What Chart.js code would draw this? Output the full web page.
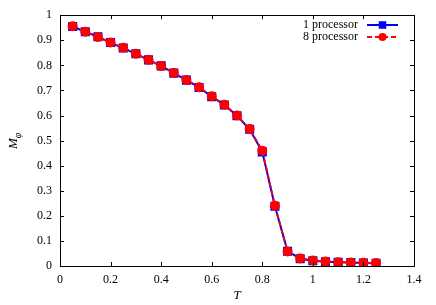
<!DOCTYPE html>
<html>
<head>
<meta charset="utf-8">
<script src="https://cdn.jsdelivr.net/npm/chart.js@4/dist/chart.umd.min.js"></script>
<style>
  body { margin: 0; background: #fff; }
  #warm { position: absolute; left: -999px; top: 0; font-family: "Liberation Serif", serif; }
</style>
</head>
<body>
<div id="warm">0.123 processor <i>M T</i> φ</div>
<canvas id="myChart" width="436" height="305"></canvas>
<script>
const temps = [0.05, 0.1, 0.15, 0.2, 0.25, 0.3, 0.35, 0.4, 0.45, 0.5, 0.55, 0.6, 0.65,
  0.7, 0.75, 0.8, 0.85, 0.9, 0.95, 1.0, 1.05, 1.1, 1.15, 1.2, 1.25];
const oneProc = [0.955, 0.934, 0.914, 0.891, 0.869, 0.846, 0.822, 0.798, 0.769, 0.741, 0.712, 0.675, 0.642,
  0.599, 0.545, 0.455, 0.238, 0.059, 0.029, 0.021, 0.017, 0.015, 0.014, 0.012, 0.011];
const eightProc = [0.956, 0.934, 0.913, 0.891, 0.870, 0.846, 0.822, 0.797, 0.770, 0.742, 0.713, 0.677, 0.643,
  0.600, 0.546, 0.460, 0.240, 0.058, 0.030, 0.022, 0.018, 0.015, 0.014, 0.013, 0.012];
const seriesLabels = ["1 processor", "8 processor"];
const xTicks = [0, 0.2, 0.4, 0.6, 0.8, 1, 1.2, 1.4];
const yTicks = [0, 0.1, 0.2, 0.3, 0.4, 0.5, 0.6, 0.7, 0.8, 0.9, 1];

const serif = "'Liberation Serif', 'Times New Roman', serif";

// gnuplot style frame with inward ticks, custom legend and y title
const framePlugin = {
  id: "frame",
  afterDraw(chart) {
    const ctx = chart.ctx;
    const a = chart.chartArea;
    const xs = chart.scales.x, ys = chart.scales.y;
    ctx.save();
    ctx.strokeStyle = "#000";
    ctx.lineWidth = 1;
    ctx.strokeRect(Math.round(a.left) + 0.5, Math.round(a.top) + 0.5,
      Math.round(a.right - a.left), Math.round(a.bottom - a.top));
    ctx.beginPath();
    const tl = 4;
    xTicks.forEach(v => {
      const px = Math.round(xs.getPixelForValue(v)) + 0.5;
      ctx.moveTo(px, a.bottom); ctx.lineTo(px, a.bottom - tl);
      ctx.moveTo(px, a.top); ctx.lineTo(px, a.top + tl);
    });
    yTicks.forEach(v => {
      const py = Math.round(ys.getPixelForValue(v)) + 0.5;
      ctx.moveTo(a.left, py); ctx.lineTo(a.left + tl, py);
      ctx.moveTo(a.right, py); ctx.lineTo(a.right - tl, py);
    });
    ctx.stroke();

    // y axis title M_phi
    ctx.save();
    ctx.translate(14, 141);
    ctx.rotate(-Math.PI / 2);
    ctx.fillStyle = "#000";
    ctx.textBaseline = "middle";
    ctx.textAlign = "left";
    ctx.font = "italic 13px " + serif;
    const mw = ctx.measureText("M").width;
    ctx.fillText("M", -8, 0);
    ctx.font = "italic 10px " + serif;
    ctx.fillText("\u03c6", -8 + mw, 4);
    ctx.restore();

    // legend, text on the left, sample on the right
    const rows = [25, 37];
    chart.data.datasets.forEach((ds, i) => {
      const y = rows[i];
      ctx.font = "12px " + serif;
      ctx.fillStyle = "#000";
      ctx.textAlign = "right";
      ctx.textBaseline = "middle";
      ctx.fillText(ds.label, 358, y);
      ctx.strokeStyle = ds.borderColor;
      ctx.lineWidth = ds.borderWidth;
      ctx.setLineDash(ds.borderDash || []);
      ctx.beginPath();
      ctx.moveTo(367, y); ctx.lineTo(398, y);
      ctx.stroke();
      ctx.setLineDash([]);
      ctx.fillStyle = ds.pointBackgroundColor;
      ctx.beginPath();
      if (ds.pointStyle === "rect") {
        const r = ds.pointRadius;
        ctx.fillRect(382.5 - r * 0.75, y - r * 0.75, r * 1.5, r * 1.5);
      } else {
        ctx.arc(382.5, y, ds.pointRadius, 0, Math.PI * 2);
        ctx.fill();
      }
    });
    ctx.restore();
  }
};

function draw() {
  new Chart("myChart", {
    type: "line",
    data: {
      labels: temps,
      datasets: [{
        label: seriesLabels[0],
        data: temps.map((t, i) => ({ x: t, y: oneProc[i] })),
        borderColor: "#0000ff",
        backgroundColor: "#0000ff",
        pointBackgroundColor: "#0000ff",
        pointBorderColor: "#0000ff",
        pointStyle: "rect",
        pointRadius: 5,
        borderWidth: 2,
        tension: 0,
        order: 2
      }, {
        label: seriesLabels[1],
        data: temps.map((t, i) => ({ x: t, y: eightProc[i] })),
        borderColor: "#ff0000",
        backgroundColor: "#ff0000",
        pointBackgroundColor: "#ff0000",
        pointBorderColor: "#ff0000",
        pointStyle: "circle",
        pointRadius: 4,
        borderWidth: 2,
        borderDash: [5, 3],
        tension: 0,
        order: 1
      }]
    },
    options: {
      responsive: false,
      animation: false,
      layout: { padding: { top: 14, right: 22, left: 0, bottom: 0 } },
      plugins: {
        legend: { display: false },
        tooltip: { enabled: false }
      },
      scales: {
        x: {
          type: "linear",
          min: 0, max: 1.4,
          afterBuildTicks: s => { s.ticks = xTicks.map(v => ({ value: v })); },
          afterFit: s => { s.height = 39; },
          grid: { display: false, drawTicks: false },
          border: { display: false },
          ticks: {
            padding: 7,
            color: "#000",
            font: { family: serif, size: 12 },
            callback: v => String(+v.toFixed(1))
          },
          title: {
            display: true,
            text: "T",
            color: "#000",
            font: { family: serif, size: 13, style: "italic" },
            padding: { top: 2, bottom: 2 }
          }
        },
        y: {
          type: "linear",
          min: 0, max: 1,
          afterBuildTicks: s => { s.ticks = yTicks.map(v => ({ value: v })); },
          afterFit: s => { s.width = 60; },
          grid: { display: false, drawTicks: false },
          border: { display: false },
          ticks: {
            padding: 8,
            color: "#000",
            font: { family: serif, size: 12 },
            callback: v => String(+v.toFixed(1))
          }
        }
      }
    },
    plugins: [framePlugin]
  });
}

if (document.fonts && document.fonts.ready) {
  document.fonts.ready.then(draw);
} else {
  draw();
}
</script>
</body>
</html>
